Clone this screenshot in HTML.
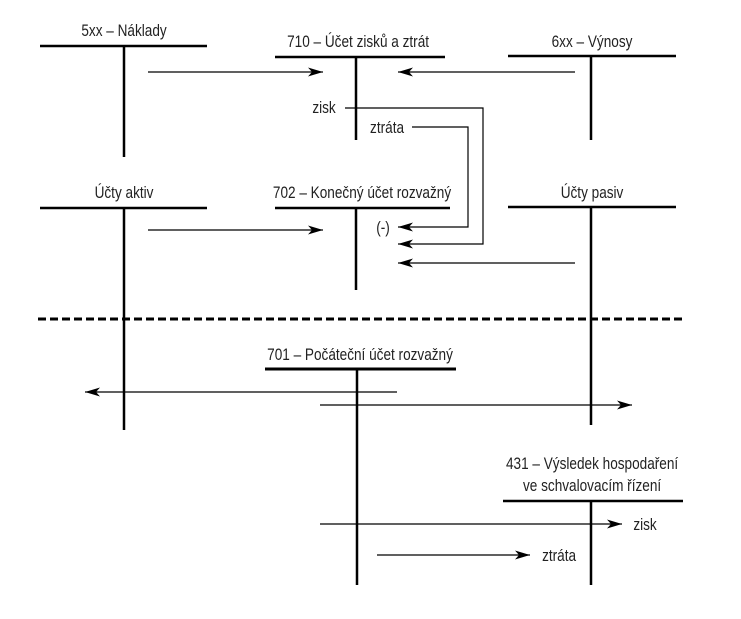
<!DOCTYPE html>
<html><head><meta charset="utf-8"><style>
html,body{margin:0;padding:0;background:#fff;}
svg{display:block}
text{font-family:"Liberation Sans Narrow","Liberation Sans",sans-serif;font-size:17px;fill:#222;transform-box:fill-box;transform-origin:center;transform:scaleX(0.8);}
</style></head><body>
<svg width="741" height="619" viewBox="0 0 741 619">
<defs>
<marker id="a" viewBox="0 0 15 9" refX="15" refY="4.5" markerWidth="15" markerHeight="9" markerUnits="userSpaceOnUse" orient="auto"><path d="M0,0 L15,4.5 L0,9 L4,4.5 z" fill="#000"/></marker>
</defs>
<g stroke="#000" stroke-width="2.5" fill="none">
<line x1="40" y1="46" x2="207" y2="46"/><line x1="124" y1="46" x2="124" y2="157"/>
<line x1="275" y1="57" x2="445" y2="57"/><line x1="356" y1="57" x2="356" y2="140"/>
<line x1="508" y1="56" x2="676" y2="56"/><line x1="591" y1="56" x2="591" y2="140"/>
<line x1="40" y1="208" x2="207" y2="208"/><line x1="124" y1="208" x2="124" y2="430"/>
<line x1="275" y1="208" x2="450" y2="208"/><line x1="356" y1="208" x2="356" y2="290"/>
<line x1="508" y1="207" x2="676" y2="207"/><line x1="591" y1="207" x2="591" y2="425"/>
<line x1="265" y1="369" x2="456" y2="369" stroke-width="3"/><line x1="357" y1="369" x2="357" y2="585"/>
<line x1="503" y1="501" x2="683" y2="501"/><line x1="591" y1="501" x2="591" y2="585"/>
</g>
<line x1="38" y1="319" x2="682" y2="319" stroke="#000" stroke-width="3" stroke-dasharray="8,4"/>
<g stroke="#000" stroke-width="1.2" fill="none" marker-end="url(#a)">
<line x1="148" y1="72" x2="323" y2="72"/>
<line x1="575" y1="72" x2="398" y2="72"/>
<line x1="148" y1="230" x2="323" y2="230"/>
<polyline points="412,127 468,127 468,227 398,227"/>
<polyline points="345,108 483,108 483,244 398,244"/>
<line x1="575" y1="263" x2="398" y2="263"/>
<line x1="397" y1="392" x2="85" y2="392"/>
<line x1="320" y1="405" x2="632" y2="405"/>
<line x1="320" y1="524" x2="622" y2="524"/>
<line x1="377" y1="555" x2="530" y2="555"/>
</g>
<text x="124" y="36" text-anchor="middle">5xx – Náklady</text>
<text x="358" y="47" text-anchor="middle">710 – Účet zisků a ztrát</text>
<text x="592" y="47" text-anchor="middle">6xx – Výnosy</text>
<text x="324" y="113" text-anchor="middle">zisk</text>
<text x="387" y="133" text-anchor="middle">ztráta</text>
<text x="124" y="198" text-anchor="middle">Účty aktiv</text>
<text x="362" y="198" text-anchor="middle">702 – Konečný účet rozvažný</text>
<text x="592" y="198" text-anchor="middle">Účty pasiv</text>
<text x="383" y="233" text-anchor="middle">(-)</text>
<text x="360" y="360" text-anchor="middle">701 – Počáteční účet rozvažný</text>
<text x="592" y="469" text-anchor="middle">431 – Výsledek hospodaření</text>
<text x="592" y="491" text-anchor="middle">ve schvalovacím řízení</text>
<text x="645" y="530" text-anchor="middle">zisk</text>
<text x="559" y="561" text-anchor="middle">ztráta</text>
</svg>
</body></html>
